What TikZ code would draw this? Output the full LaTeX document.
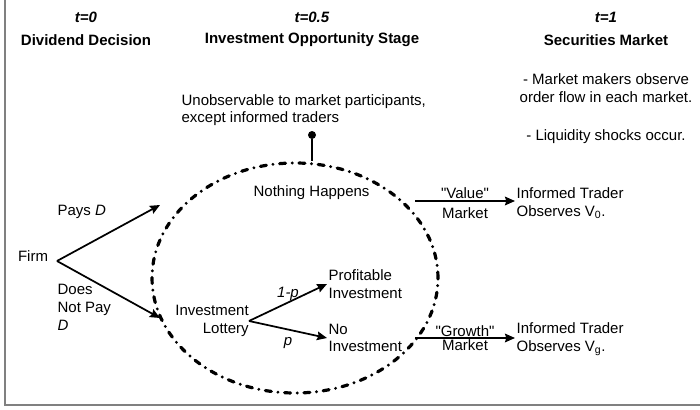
\documentclass[tikz,border=0pt]{standalone}
\usepackage{fontspec}
\setmainfont{Liberation Sans}
\usetikzlibrary{shapes.geometric, arrows, arrows.meta}
\tikzstyle{txt} = [inner sep=1pt, font=\fontsize{11.25}{13.2}\selectfont]
\tikzstyle{head} = [inner sep=1pt, font=\fontsize{11.25}{13.2}\selectfont\bfseries]
\tikzstyle{oval} = [ellipse, draw=black, inner sep=0pt, minimum width=214.5pt, minimum height=172.5pt, line width=2.4pt, line cap=round, dash pattern=on 4.5pt off 5pt on 0pt off 5pt]
\tikzstyle{pin} = [circle, fill=black, inner sep=0pt, minimum size=6pt]
\tikzstyle{arrow} = [line width=1.3pt, -{Stealth[length=7.5pt, width=6.5pt, inset=1pt]}]

\begin{document}
\begin{tikzpicture}[x=0.75pt, y=-0.75pt]
    \useasboundingbox (0,0) rectangle (700,410);
    \draw [gray, line width=1.5pt] (5,-5) rectangle (706,405);

    % time line
    \node (tzero) [head] at (86,17) {\textit{t=0}};
    \node (divdec) [head] at (86,40) {Dividend Decision};
    \node (thalf) [head] at (312,17) {\textit{t=0.5}};
    \node (invstage) [head] at (312,40) {Investment Opportunity Stage};
    \node (tone) [head] at (606,17) {\textit{t=1}};
    \node (secmkt) [head] at (606,40) {Securities Market};
    \node (makers) [txt, align=center] at (606,88) {- Market makers observe\\order flow in each market.};
    \node (shocks) [txt] at (606,137) {- Liquidity shocks occur.};

    % firm
    \node (firm) [txt, anchor=base east, inner xsep=6.5pt] at (57,261) {Firm};
    \coordinate (paytip) at (160,205);
    \coordinate (nopaytip) at (160,318);
    \node (pays) [txt, anchor=west] at (56,212) {Pays \textit{D}};
    \node (nopay) [txt, align=left, anchor=north west] at (56,283) {Does\\Not Pay\\\textit{D}};

    % stage
    \node (stage) [oval] at (295,278) {};
    \node (hidden) [txt, align=left, anchor=west] at (180,110) {Unobservable to market participants,\\except informed traders};
    \node (dot) [pin] at (312,135) {};
    \node (nothing) [txt, anchor=west] at (252,193) {Nothing Happens};
    \node (lottery) [txt, align=right, anchor=east, inner xsep=0pt] at (249,321) {Investment\\Lottery};
    \node (profit) [txt, align=left, anchor=west] at (327,284) {Profitable\\Investment};
    \node (noinv) [txt, align=left, anchor=west] at (327,338) {No\\Investment};

    % markets
    \coordinate (vstart) at (415,201);
    \coordinate (gstart) at (415,338);
    \node (infov) [txt, align=left, anchor=west] at (515,203) {Informed Trader\\Observes V\textsubscript{0}.};
    \node (infog) [txt, align=left, anchor=west] at (515,339) {Informed Trader\\Observes V\textsubscript{g}.};

    \draw [line width=1.2pt] (dot) -- (dot |- stage.north);
    \draw [arrow] (firm.base east) -- (paytip);
    \draw [arrow] (firm.base east) -- (nopaytip);
    \draw [arrow] (lottery.east) -- node [txt, above] {\textit{1-p}} (profit.west);
    \draw [arrow] (lottery.east) -- node [txt, below=4pt] {\textit{p}} (noinv.west);
    \draw [arrow] (vstart) -- node [txt, above] {\textquotedbl Value\textquotedbl} node [txt, below=3pt] {Market} (vstart -| infov.west);
    \draw [arrow] (gstart) -- node [txt, above, inner sep=0.6pt] {\textquotedbl Growth\textquotedbl} node [txt, below, inner sep=0.6pt] {Market} (gstart -| infog.west);

\end{tikzpicture}
\end{document}
